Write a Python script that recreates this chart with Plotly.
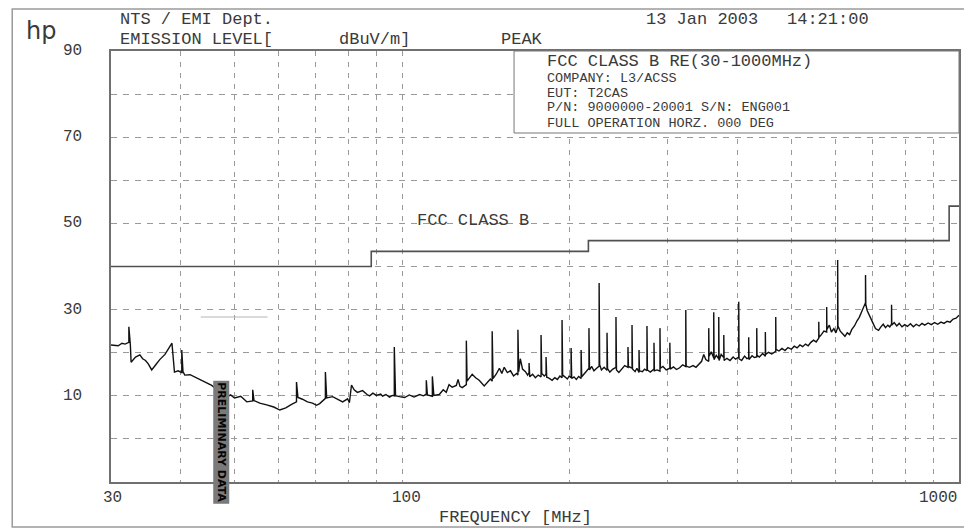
import plotly.graph_objects as go

# ---------------- data ----------------
limit_freq = [30, 88, 216, 960, 1000]
limit_level = [40, 43.5, 46, 54, 54]

freq_mhz = [
    30.0, 30.9, 31.4, 31.8, 32.3, 32.3, 32.5, 32.6, 33.2, 33.8, 34.2, 34.6, 35.0, 35.5, 36.1, 36.7,
    37.5, 38.2, 38.6, 39.0, 39.6, 40.2, 40.2, 40.4, 40.7, 41.6, 42.8, 44.2, 45.5, 47.0, 48.4, 49.2,
    50.0, 51.3, 52.6, 53.9, 53.9, 54.2, 55.5, 57.1, 58.8, 60.3, 61.8, 63.3, 64.6, 64.6, 65.0, 66.2,
    67.6, 69.0, 70.2, 71.1, 72.0, 72.8, 72.8, 73.2, 75.0, 76.6, 78.2, 79.8, 80.4, 81.1, 82.0, 83.1,
    84.9, 86.5, 87.4, 88.6, 89.9, 91.5, 92.2, 93.5, 94.9, 96.0, 96.8, 96.8, 97.3, 98.9, 101.0, 103.0,
    105.0, 107.5, 109.2, 110.5, 110.5, 111.0, 113.3, 113.3, 114.0, 116.6, 118.5, 120.0, 121.4, 123.0,
    125.1, 126.0, 127.0, 128.2, 130.4, 130.4, 130.8, 132.0, 133.6, 135.5, 137.5, 140.4, 142.5, 144.0,
    145.1, 145.1, 145.6, 147.5, 149.5, 151.0, 152.5, 154.5, 156.5, 158.5, 160.5, 161.4, 161.4, 161.9,
    163.0, 164.5, 166.5, 168.0, 169.0, 169.0, 169.5, 171.5, 173.5, 175.5, 177.6, 177.6, 178.1, 180.0,
    181.3, 181.3, 181.8, 183.5, 185.9, 188.0, 190.0, 192.0, 193.7, 193.7, 194.2, 196.0, 198.0, 199.5,
    201.1, 201.1, 201.6, 203.5, 205.5, 207.5, 209.6, 209.6, 210.1, 212.0, 214.5, 216.5, 216.5, 217.0,
    219.0, 221.0, 223.5, 225.8, 225.8, 226.3, 228.0, 230.5, 233.3, 233.3, 233.8, 236.0, 239.0, 242.1,
    242.1, 242.6, 245.0, 248.0, 251.0, 254.4, 254.4, 254.9, 258.7, 258.7, 259.2, 262.0, 264.0, 266.3,
    266.3, 266.8, 270.0, 272.5, 275.2, 275.2, 275.7, 279.0, 283.3, 283.3, 283.8, 287.0, 290.4, 290.4,
    290.9, 294.0, 298.0, 302.5, 302.5, 303.0, 307.0, 311.0, 315.0, 319.0, 323.1, 323.1, 323.6, 328.0,
    333.0, 337.0, 341.0, 345.0, 348.0, 351.0, 355.3, 355.3, 355.8, 359.0, 362.7, 362.7, 363.2, 366.5,
    370.3, 370.3, 370.8, 374.0, 378.1, 378.1, 378.6, 383.0, 388.0, 393.0, 397.0, 402.2, 402.2, 402.7,
    407.0, 412.0, 416.0, 419.1, 419.1, 419.6, 425.0, 429.0, 433.3, 433.3, 433.8, 438.0, 444.0, 449.0,
    449.0, 449.5, 455.0, 461.0, 468.7, 468.7, 469.3, 475.0, 481.0, 487.0, 493.0, 500.0, 506.0, 512.0,
    518.0, 524.0, 530.0, 536.0, 542.0, 548.0, 554.0, 560.0, 560.0, 560.6, 566.0, 572.0, 578.6, 578.6,
    579.2, 585.0, 590.0, 596.0, 601.0, 605.5, 605.5, 606.2, 612.0, 618.0, 624.0, 630.0, 636.0, 642.0,
    649.0, 656.0, 662.0, 668.0, 673.0, 677.0, 679.4, 679.4, 680.2, 684.0, 689.0, 695.0, 701.0, 708.0,
    717.0, 724.0, 731.0, 738.0, 745.0, 751.0, 756.6, 756.6, 757.4, 765.0, 773.0, 781.0, 790.0, 799.0,
    808.0, 818.0, 828.0, 838.0, 848.0, 858.0, 868.0, 880.0, 892.0, 904.0, 916.0, 928.0, 940.0, 952.0,
    964.0, 976.0, 988.0, 1000.0,
]

level_dbuv = [
    21.8, 21.6, 22.2, 22.0, 22.4, 26.0, 21.8, 17.8, 19.0, 19.5, 18.6, 18.2, 17.4, 16.0, 17.2, 18.4,
    19.6, 21.3, 22.2, 15.5, 15.8, 15.4, 20.6, 15.6, 14.8, 14.9, 14.1, 13.2, 12.4, 10.9, 9.7, 10.2,
    9.5, 9.9, 8.6, 8.8, 11.4, 8.9, 8.3, 7.9, 7.4, 6.7, 7.2, 8.0, 8.6, 13.2, 9.6, 9.2,
    8.6, 8.3, 7.8, 8.2, 8.8, 9.4, 15.5, 9.5, 9.8, 9.2, 8.6, 9.3, 8.4, 12.5, 11.4, 10.8,
    11.2, 10.3, 10.0, 10.6, 10.1, 10.4, 9.9, 10.3, 9.7, 10.1, 10.0, 21.3, 10.0, 9.8, 9.6, 10.2,
    9.7, 10.3, 10.0, 10.4, 13.6, 10.2, 9.9, 14.5, 10.1, 10.3, 11.4, 10.8, 12.6, 12.0,
    12.4, 13.8, 12.2, 11.9, 12.6, 22.8, 13.4, 14.1, 15.0, 14.2, 13.6, 12.3, 13.2, 13.9,
    13.4, 25.0, 14.0, 15.0, 16.4, 15.2, 16.6, 15.4, 15.8, 14.6, 15.2, 14.8, 25.3, 15.6,
    18.6, 16.2, 15.6, 14.8, 15.4, 17.6, 14.4, 15.0, 14.2, 14.8, 14.4, 24.1, 15.2, 14.6,
    15.0, 19.0, 14.3, 14.1, 13.6, 14.2, 13.8, 14.6, 14.2, 27.6, 14.8, 14.4, 13.9, 14.6,
    14.2, 21.1, 14.0, 14.4, 13.8, 14.5, 14.0, 20.6, 14.4, 15.0, 15.8, 16.4, 25.7, 16.0,
    16.8, 15.8, 16.4, 16.9, 36.2, 17.2, 16.0, 16.6, 15.9, 24.6, 16.3, 15.5, 16.2, 16.6,
    28.3, 16.0, 15.4, 16.2, 17.0, 16.6, 21.3, 16.8, 16.4, 26.4, 16.2, 15.6, 16.4, 15.4,
    20.6, 15.8, 15.6, 16.2, 15.8, 26.2, 16.0, 15.5, 16.2, 22.3, 15.8, 16.0, 15.7, 25.7,
    16.4, 16.8, 16.0, 16.4, 22.3, 16.2, 16.7, 16.1, 16.5, 17.2, 16.8, 29.9, 16.9, 16.6,
    17.0, 16.6, 17.3, 18.0, 19.6, 18.4, 18.0, 25.7, 19.2, 20.2, 18.8, 29.4, 18.4, 19.4,
    18.6, 28.3, 18.2, 19.6, 18.9, 24.1, 18.2, 18.7, 18.2, 19.0, 18.5, 19.0, 31.8, 18.6,
    18.2, 19.2, 18.6, 18.8, 23.6, 18.4, 19.3, 18.9, 19.0, 25.7, 19.4, 19.0, 19.8, 19.2,
    24.8, 19.6, 20.1, 19.7, 20.3, 28.3, 20.8, 20.4, 21.0, 20.5, 21.2, 20.8, 21.5, 21.1,
    21.8, 21.4, 22.0, 21.6, 22.4, 22.9, 22.5, 23.4, 27.2, 23.6, 24.2, 25.0, 24.8, 30.6,
    25.4, 26.4, 24.8, 25.6, 24.6, 25.8, 41.5, 26.2, 25.0, 24.4, 23.8, 24.6, 24.2, 25.4,
    26.2, 27.4, 28.2, 29.4, 30.4, 31.1, 31.6, 38.0, 31.2, 29.8, 28.8, 27.6, 26.8, 25.6,
    25.2, 26.0, 26.6, 25.8, 26.4, 26.0, 26.6, 31.1, 26.4, 27.0, 26.2, 26.8, 26.0, 26.5,
    26.1, 26.7, 26.0, 26.6, 26.2, 26.8, 26.4, 26.9, 26.5, 27.0, 26.6, 27.1, 26.8, 27.3,
    27.1, 27.8, 28.0, 28.7,
]

grid_freqs = [40, 50, 60, 70, 80, 90, 100, 200, 300, 400, 500, 600, 700, 800, 900]
x_tick_labels = ["30", "100", "1000"]
y_tick_labels = ["90", "70", "50", "30", "10"]

# ---------------- figure ----------------
INK = "#3a3a3a"
MONO = "Liberation Mono"

fig = go.Figure()
fig.add_trace(go.Scatter(x=limit_freq, y=limit_level, mode="lines", line_shape="hv",
                         line=dict(color="#505050", width=1.6), hoverinfo="skip"))
fig.add_trace(go.Scatter(x=freq_mhz, y=level_dbuv, mode="lines",
                         line=dict(color="#111111", width=1.4), hoverinfo="skip"))

# the page body adds an 8px offset; positions below are in window pixels,
# converted to paper fractions of the plot area (window x 111..961, y 51..482)


def px2xp(px):
    return (px - 111) / 850.0


def py2yp(py):
    return (482 - py) / 431.0


ann = []


def text(t, px, py, size=17, xanchor="left", family=MONO, color=INK, **kw):
    ann.append(dict(text=t, x=px2xp(px), y=py2yp(py), xref="paper", yref="paper",
                    xanchor=xanchor, yanchor="middle", showarrow=False,
                    font=dict(family=family, size=size, color=color), **kw))


text("hp", 41, 31, size=24, xanchor="center", family="DejaVu Sans")
text("NTS / EMI Dept.", 118, 20, size=17)
text("EMISSION LEVEL[", 118, 39, size=17)
text("dBuV/m]", 338, 39, size=17)
text("PEAK", 500, 39, size=17)
text("13 Jan 2003", 645, 19, size=17)
text("14:21:00", 787, 19, size=17)

box_lines = ["FCC CLASS B RE(30-1000MHz)", "COMPANY: L3/ACSS", "EUT: T2CAS",
             "P/N: 9000000-20001 S/N: ENG001", "FULL OPERATION HORZ. 000 DEG"]
box_y = [61, 78, 93, 108, 123]
box_size = [17, 13.5, 13.5, 13.5, 13.5]
for t, yy, s in zip(box_lines, box_y, box_size):
    text(t, 546, yy, size=s)

text("FCC CLASS B", 416, 220, size=17)

# x tick labels
for lab, px in zip(x_tick_labels, [113, 407, 940]):
    text(lab, px, 498, size=16, xanchor="center")
text("FREQUENCY [MHz]", 438, 517, size=17)

# y tick labels
for lab in y_tick_labels:
    ann.append(dict(text=lab, x=px2xp(72), y=float(lab), xref="paper", yref="y",
                    xanchor="center", yanchor="middle", showarrow=False,
                    font=dict(family=MONO, size=16, color=INK)))

# stamp
ann.append(dict(text="PRELIMINARY DATA", x=px2xp(222), y=py2yp(442), xref="paper", yref="paper",
                xanchor="center", yanchor="middle", showarrow=False, textangle=90,
                bgcolor="#7a7a7a", borderpad=1,
                font=dict(family="DejaVu Sans", size=11, color="#050505", weight="bold")))

shapes = [
    # page frame
    dict(type="rect", xref="paper", yref="paper", x0=px2xp(12), x1=px2xp(969),
         y0=py2yp(527), y1=py2yp(9), line=dict(color="#9a9a9a", width=1.5), layer="below"),
    # info box
    dict(type="rect", xref="paper", yref="paper", x0=px2xp(515), x1=1.0,
         y0=py2yp(133), y1=1.0, fillcolor="white", line=dict(color="#777777", width=1),
         layer="above"),
    # faint pencil mark
    dict(type="line", xref="paper", yref="paper", x0=px2xp(201), x1=px2xp(268),
         y0=py2yp(317), y1=py2yp(317), line=dict(color="#b5b5b5", width=1)),
]

fig.update_layout(
    width=964, height=521,
    margin=dict(l=103, r=11, t=43, b=47),
    paper_bgcolor="white", plot_bgcolor="white",
    showlegend=False,
    annotations=ann,
    shapes=shapes,
    xaxis=dict(type="log", range=[1.4771213, 3.0], tickmode="array", tickvals=grid_freqs,
               showticklabels=False, ticks="", showgrid=True, gridcolor="#9a9a9a",
               griddash="5px,6px", gridwidth=1, zeroline=False,
               showline=True, mirror=True, linecolor="#707070", linewidth=1.5),
    yaxis=dict(range=[-10, 90], tick0=0, dtick=10, showticklabels=False, ticks="",
               showgrid=True, gridcolor="#9a9a9a", griddash="6px,6px", gridwidth=1,
               zeroline=False, showline=True, mirror=True, linecolor="#707070", linewidth=1.5),
)

fig.write_html("out.html")
